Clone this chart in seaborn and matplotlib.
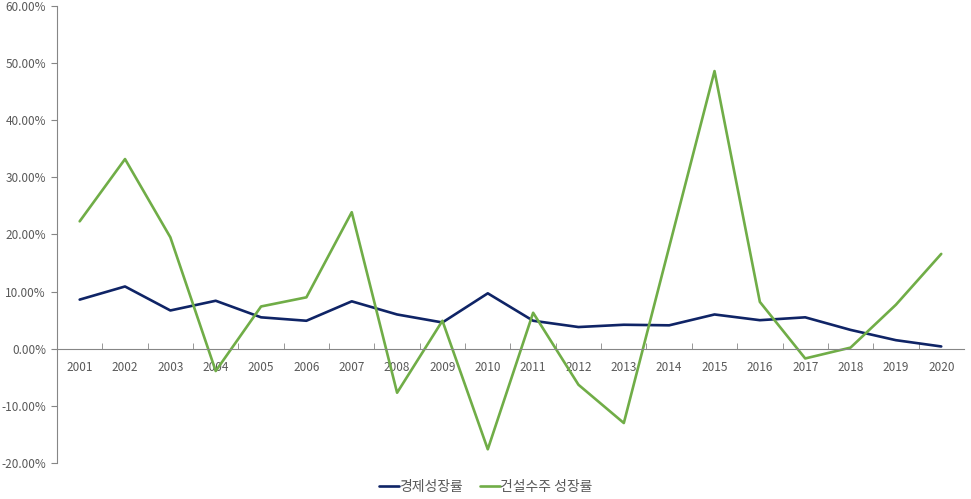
import pandas as pd
import matplotlib.pyplot as plt
import seaborn as sns
from matplotlib.ticker import FuncFormatter, MultipleLocator

sns.set_style('white')
plt.rcParams['font.family'] = ['Noto Sans CJK KR', 'DejaVu Sans']

# values (percent)
years = list(range(2001, 2021))
econ_growth = [8.6, 10.9, 6.7, 8.4, 5.5, 4.9, 8.3, 6.0, 4.6, 9.7,
               4.9, 3.8, 4.2, 4.1, 6.0, 5.0, 5.5, 3.3, 1.5, 0.4]
constr_growth = [22.3, 33.2, 19.5, -3.9, 7.4, 9.0, 23.9, -7.7, 4.9, -17.6,
                 6.3, -6.3, -13.0, 17.8, 48.6, 8.2, -1.7, 0.2, 7.7, 16.6]
series_names = ['경제성장률', '건설수주 성장률']

df = pd.DataFrame({
    'year': years * 2,
    'value': econ_growth + constr_growth,
    'series': [series_names[0]] * len(years) + [series_names[1]] * len(years),
})

fig = plt.figure(figsize=(9.71, 4.99), dpi=100)
ax = fig.add_axes([0.0587, 0.0721, 0.934, 0.916])

sns.lineplot(data=df, x='year', y='value', hue='series',
             palette=['#0F2466', '#70AD47'], linewidth=1.9, ax=ax)

grey = '#868686'
text_grey = '#595959'

ax.set_xlim(2000.5, 2020.5)
ax.set_ylim(-20, 60)
ax.yaxis.set_major_locator(MultipleLocator(10))
ax.yaxis.set_major_formatter(FuncFormatter(lambda v, p: f'{v:.2f}%'))
ax.set_xticks(years)
ax.set_xticks([y + 0.5 for y in range(2000, 2020)], minor=True)
ax.set_xlabel('')
ax.set_ylabel('')

for side in ['top', 'right']:
    ax.spines[side].set_visible(False)
ax.spines['bottom'].set_position(('data', 0))
ax.spines['bottom'].set_color(grey)
ax.spines['left'].set_color(grey)

ax.tick_params(axis='y', which='major', left=True, length=4, color=grey,
               labelsize=8.5, labelcolor=text_grey, pad=4)
ax.tick_params(axis='x', which='major', length=0, labelsize=8.5,
               labelcolor=text_grey, pad=9)
ax.tick_params(axis='x', which='minor', bottom=True, direction='in',
               length=4, color=grey)

# legend centred on the figure, below the plot
handles, labels = ax.get_legend_handles_labels()
ax.get_legend().remove()
leg = fig.legend(handles, labels, loc='center', bbox_to_anchor=(0.5, 0.025),
                 ncol=2, frameon=False, fontsize=10, handlelength=1.45,
                 columnspacing=1.2, handletextpad=0.0)
for t in leg.get_texts():
    t.set_color(text_grey)

fig.savefig('out.png', dpi=100)
